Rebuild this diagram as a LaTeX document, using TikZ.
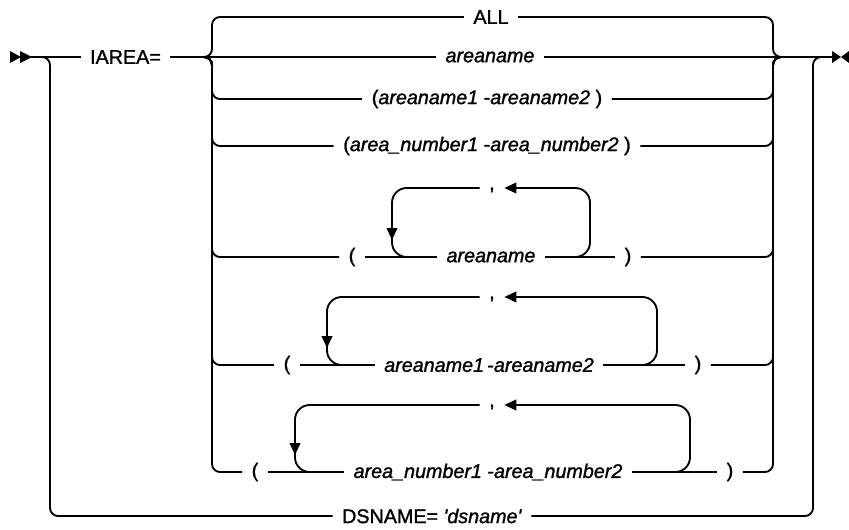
\documentclass[tikz,border=0pt]{standalone}
\usepackage{fontspec}
\setmainfont{Liberation Sans}[FakeBold=1.3,ItalicFeatures={FakeBold=1.3}]
\usetikzlibrary{arrows.meta}
\begin{document}
\begin{tikzpicture}[x=0.75pt,y=-0.75pt,line width=1.4pt,
  lbl/.style={inner xsep=6.5pt,inner ysep=1pt,font=\fontsize{14.8}{17}\selectfont},
  rr/.style={rounded corners=6pt},
  lp/.style={rounded corners=11pt},
  tip/.style={-{Triangle[length=9pt,width=8pt]}}]
\useasboundingbox (0,0) rectangle (849,529);
% markers
\fill (10,51) -- (21,57) -- (10,63) -- cycle;
\fill (20,51) -- (32,57) -- (20,63) -- cycle;
\fill (832,51) -- (841,57) -- (832,63) -- cycle;
\fill (849,51) -- (841,57) -- (849,63) -- cycle;
\coordinate (start) at (31,57);
\coordinate (end) at (833,57);
\coordinate (lo) at (50,57);
\coordinate (ro) at (813,57);
\coordinate (lb) at (212,57);
\coordinate (rb) at (773,57);
% labels
\node[lbl] (iarea) at (125.5,57) {IAREA=};
\node[lbl] (all) at (491,17) {ALL};
\node[lbl] (an) at (490,57) {\textit{areaname}};
\node[lbl] (r3) at (487,99) {(\textit{areaname1} -\textit{areaname2} )};
\node[lbl] (r4) at (487,146) {(\textit{area\_number1} -\textit{area\_number2} )};
\node[lbl] (lp5) at (352,257) {(};
\node[lbl] (a5) at (491,257) {\textit{areaname}};
\node[lbl] (rp5) at (628,257) {)};
\node[lbl] (c5) at (492,190) {,};
\node[lbl] (lp6) at (287,365) {(};
\node[lbl] (a6) at (489,365) {\textit{areaname1}\,-\textit{areaname2}};
\node[lbl] (rp6) at (698,365) {)};
\node[lbl] (c6) at (492,299) {,};
\node[lbl] (lp7) at (255,472) {(};
\node[lbl] (a7) at (488,472) {\textit{area\_number1} -\textit{area\_number2}};
\node[lbl] (rp7) at (730,472) {)};
\node[lbl] (c7) at (492,407) {,};
\node[lbl] (ds) at (432,516) {DSNAME= \textit{\textquotesingle dsname\textquotesingle}};
% main line and outer branch
\draw (start) -- (iarea.west);
\draw[rr] (start) -- (lo) -- (lo |- ds) -- (ds.west);
\draw[rr] (ds.east) -- (ro |- ds) -- (ro) -- (end);
% left brace
\draw[rr] (iarea.east) -- (lb) -- (lb |- all) -- (all.west);
\draw (iarea.east) -- (an.west);
\draw[rr] (iarea.east) -- (lb) -- (lb |- r3) -- (r3.west);
\draw[rr] (iarea.east) -- (lb) -- (lb |- r4) -- (r4.west);
\draw[rr] (iarea.east) -- (lb) -- (lb |- lp5) -- (lp5.west);
\draw[rr] (iarea.east) -- (lb) -- (lb |- lp6) -- (lp6.west);
\draw[rr] (iarea.east) -- (lb) -- (lb |- lp7) -- (lp7.west);
% right brace
\draw[rr] (all.east) -- (rb |- all) -- (rb) -- (end);
\draw (an.east) -- (end);
\draw[rr] (r3.east) -- (rb |- r3) -- (rb) -- (end);
\draw[rr] (r4.east) -- (rb |- r4) -- (rb) -- (end);
\draw[rr] (rp5.east) -- (rb |- rp5) -- (rb) -- (end);
\draw[rr] (rp6.east) -- (rb |- rp6) -- (rb) -- (end);
\draw[rr] (rp7.east) -- (rb |- rp7) -- (rb) -- (end);
% row 5
\draw (lp5.east) -- (a5.west);
\draw (a5.east) -- (rp5.west);
\draw[lp,tip] (570,257) -- (590,257) -- (590,188) -- (c5.east |- 0,188);
\draw[lp] (c5.west |- 0,188) -- (392,188) -- (392,257) -- (414,257);
\draw[tip] (392,222) -- (392,240);
% row 6
\draw (lp6.east) -- (a6.west);
\draw (a6.east) -- (rp6.west);
\draw[lp,tip] (637,365) -- (657,365) -- (657,297) -- (c6.east |- 0,297);
\draw[lp] (c6.west |- 0,297) -- (327,297) -- (327,365) -- (349,365);
\draw[tip] (327,330) -- (327,348);
% row 7
\draw (lp7.east) -- (a7.west);
\draw (a7.east) -- (rp7.west);
\draw[lp,tip] (670,472) -- (690,472) -- (690,405) -- (c7.east |- 0,405);
\draw[lp] (c7.west |- 0,405) -- (295,405) -- (295,472) -- (317,472);
\draw[tip] (295,437) -- (295,455);
\end{tikzpicture}
\end{document}
